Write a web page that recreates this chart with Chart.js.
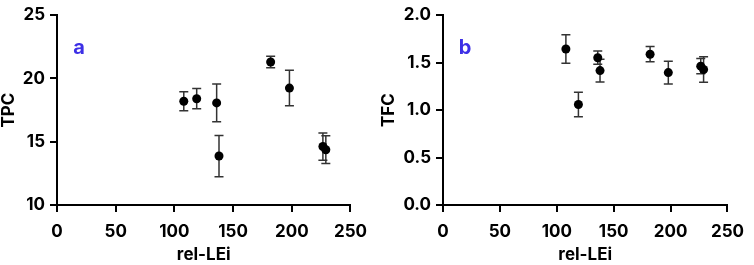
<!DOCTYPE html>
<html>
<head>
<meta charset="utf-8">
<script src="https://cdn.jsdelivr.net/npm/chart.js@4.4.1/dist/chart.umd.min.js"></script>
<style>
  body { margin: 0; background: #fff; }
  .wrap { display: flex; width: 754px; height: 265px; }
  .panel { width: 377px; height: 265px; position: relative; }
</style>
</head>
<body>
<div class="wrap">
  <div class="panel"><canvas id="tpcChart" width="377" height="265"></canvas></div>
  <div class="panel"><canvas id="tfcChart" width="377" height="265"></canvas></div>
</div>
<script>
// values
const relLEi = [108, 119, 136, 138, 182, 198, 226.5, 229];
const tpc    = [18.2, 18.4, 18.07, 13.87, 21.3, 19.24, 14.62, 14.37];
const tpcErr = [0.76, 0.8, 1.5, 1.63, 0.46, 1.4, 1.08, 1.1];
const tfc    = [1.644, 1.059, 1.552, 1.416, 1.589, 1.395, 1.463, 1.428];
const tfcErr = [0.15, 0.13, 0.07, 0.12, 0.08, 0.12, 0.08, 0.134];
const xTicks = [0, 50, 100, 150, 200, 250];

const font = "Inter, 'Liberation Sans', Arial, sans-serif";

// error bars drawn through the chart's own scales
const errorBars = {
  id: 'errorBars',
  beforeDatasetsDraw(chart, args, opts) {
    const { ctx, scales: { x, y } } = chart;
    const pts = chart.data.datasets[0].data;
    ctx.save();
    ctx.strokeStyle = '#333';
    ctx.lineWidth = 1.5;
    pts.forEach((p, i) => {
      const px = x.getPixelForValue(p.x);
      const top = y.getPixelForValue(p.y + opts.errors[i]);
      const bot = y.getPixelForValue(p.y - opts.errors[i]);
      ctx.beginPath();
      ctx.moveTo(px, top); ctx.lineTo(px, bot);
      ctx.moveTo(px - 4.5, top); ctx.lineTo(px + 4.5, top);
      ctx.moveTo(px - 4.5, bot); ctx.lineTo(px + 4.5, bot);
      ctx.stroke();
    });
    ctx.restore();
  }
};

const panelLabel = {
  id: 'panelLabel',
  afterDraw(chart, args, opts) {
    const { ctx, chartArea } = chart;
    ctx.save();
    ctx.fillStyle = '#3d2fe6';
    ctx.font = 'bold 20px ' + font;
    ctx.textAlign = 'center';
    ctx.textBaseline = 'alphabetic';
    ctx.fillText(opts.text, chartArea.left + opts.dx, chartArea.top + opts.dy);
    ctx.restore();
  }
};

function makeChart(id, yVals, yErr, yTitle, yMin, yMax, yStep, decimals, yWidth, padRight, titlePad, label) {
  const ctx = document.getElementById(id).getContext('2d');
  return new Chart(ctx, {
    type: 'scatter',
    data: {
      datasets: [{
        data: relLEi.map((x, i) => ({ x: x, y: yVals[i] })),
        backgroundColor: '#000',
        borderColor: '#000',
        pointRadius: 4.5,
        pointBorderWidth: 0
      }]
    },
    options: {
      responsive: false,
      animation: false,
      layout: { padding: { left: 0, top: 8, right: padRight, bottom: 0 } },
      plugins: {
        legend: { display: false },
        tooltip: { enabled: false },
        errorBars: { errors: yErr },
        panelLabel: { text: label, dx: 22, dy: 39 }
      },
      scales: {
        x: {
          type: 'linear',
          min: 0, max: 250,
          afterBuildTicks: (s) => { s.ticks = xTicks.map(v => ({ value: v })); },
          afterFit: (s) => { s.height = 60; },
          grid: { drawOnChartArea: false, drawTicks: true, tickLength: 7, color: '#000', lineWidth: 2 },
          border: { display: true, color: '#000', width: 2 },
          ticks: { color: '#000', padding: 10, font: { family: font, size: 17, weight: 'bold' } },
          title: { display: true, text: 'rel-LEi', color: '#000', padding: { top: 0, bottom: 0 }, font: { family: font, size: 17, weight: 'bold' } }
        },
        y: {
          min: yMin, max: yMax,
          afterFit: (s) => { s.width = yWidth; },
          grid: { drawOnChartArea: false, drawTicks: true, tickLength: 7, color: '#000', lineWidth: 2 },
          border: { display: true, color: '#000', width: 2 },
          ticks: {
            stepSize: yStep, color: '#000', padding: 5,
            font: { family: font, size: 17, weight: 'bold' },
            callback: (v) => v.toFixed(decimals)
          },
          title: { display: true, text: yTitle, color: '#000', padding: { top: titlePad, bottom: 0 }, font: { family: font, size: 17, weight: 'bold' } }
        }
      }
    },
    plugins: [errorBars, panelLabel]
  });
}

makeChart('tpcChart', tpc, tpcErr, 'TPC', 10, 25, 5, 0, 57, 26, -1, 'a');
makeChart('tfcChart', tfc, tfcErr, 'TFC', 0, 2, 0.5, 1, 66, 17, 2, 'b');
</script>
</body>
</html>
